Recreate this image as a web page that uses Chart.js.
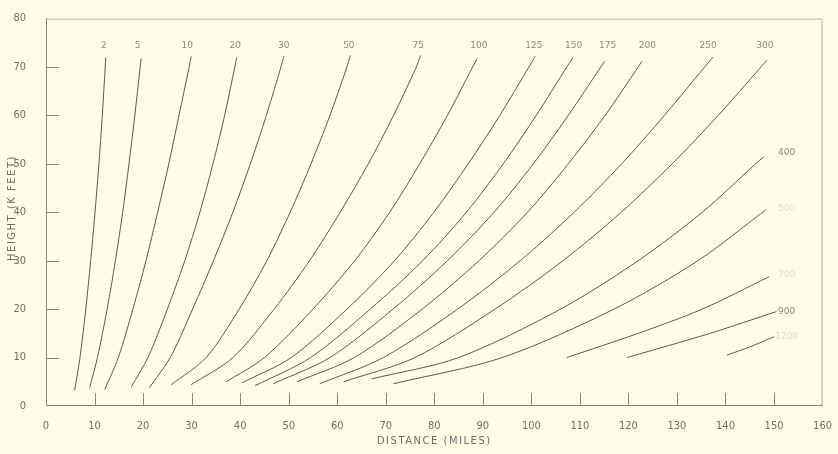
<!DOCTYPE html>
<html>
<head>
<meta charset="utf-8">
<script src="https://cdn.jsdelivr.net/npm/chart.js@4.4.0/dist/chart.umd.min.js"></script>
<style>
html, body { margin: 0; padding: 0; background: #fdfde8; }
#wrap { width: 838px; height: 454px; position: relative; }
</style>
</head>
<body>
<div id="wrap"><canvas id="grafico"></canvas></div>
<script>
// curves: [distance (miles), height (K feet)]
const c2 = [[5.9, 3.2], [7.0, 10], [8.2, 20], [9.2, 30], [10.1, 40], [10.9, 50], [11.6, 60], [12.2, 70], [12.3, 72]]
const c5 = [[9.0, 3.8], [10.6, 10], [12.6, 20], [14.3, 30], [15.8, 40], [17.1, 50], [18.3, 60], [19.4, 70], [19.6, 71.8]]
const c10 = [[12.1, 3.4], [14.9, 10], [17.9, 20], [20.6, 30], [23.0, 40], [25.3, 50], [27.4, 60], [29.5, 70], [29.9, 72.2]]
const c20 = [[17.6, 4.0], [21.0, 10], [25.0, 20], [28.6, 30], [31.7, 40], [34.4, 50], [36.8, 60], [38.9, 70], [39.3, 72]]
const c30 = [[21.3, 3.8], [25.6, 10], [30.2, 20], [34.5, 30], [38.5, 40], [42.1, 50], [45.4, 60], [48.4, 70], [49.0, 72.2]]
const c50 = [[25.8, 4.4], [33.0, 10], [39.8, 20], [45.5, 30], [50.3, 40], [54.6, 50], [58.5, 60], [62.0, 70], [62.7, 72.4]]
const c75 = [[29.9, 4.4], [38.5, 10], [47.0, 20], [54.3, 30], [60.6, 40], [66.4, 50], [71.6, 60], [76.3, 70], [77.2, 72.4]]
const c100 = [[37.1, 5.0], [45.0, 10], [55.0, 20], [63.6, 30], [70.8, 40], [77.0, 50], [82.7, 60], [87.9, 70], [88.8, 71.7]]
const c125 = [[40.4, 4.8], [50.5, 10], [62.0, 20], [71.8, 30], [79.9, 40], [87.0, 50], [93.5, 60], [99.5, 70], [100.8, 72.2]]
const c150 = [[43.1, 4.2], [54.5, 10], [66.8, 20], [77.6, 30], [86.6, 40], [94.2, 50], [101.0, 60], [107.3, 70], [108.6, 72]]
const c175 = [[46.8, 4.6], [58.5, 10], [71.5, 20], [82.7, 30], [92.3, 40], [100.4, 50], [107.6, 60], [114.3, 70], [115.1, 71.2]]
const c200 = [[51.7, 5.0], [63.5, 10], [77.5, 20], [89.2, 30], [99.2, 40], [107.6, 50], [115.2, 60], [122.0, 70], [122.8, 71.2]]
const c250 = [[56.4, 4.6], [69.5, 10], [84.8, 20], [97.7, 30], [108.8, 40], [118.6, 50], [127.4, 60], [135.7, 70], [137.4, 72]]
const c300 = [[61.3, 5.0], [76.0, 10], [92.5, 20], [106.5, 30], [118.5, 40], [129.0, 50], [138.5, 60], [147.3, 70], [148.5, 71.4]]
const c400 = [[67.1, 5.6], [85.0, 10], [106.0, 20], [122.0, 30], [135.2, 40], [146.2, 50], [147.9, 51.5]]
const c500 = [[71.6, 4.6], [94.0, 10], [117.0, 20], [134.3, 30], [148.3, 40.5]]
const c700 = [[107.3, 10], [122.0, 15], [135.2, 20], [149.0, 26.7]]
const c900 = [[119.7, 10], [136.8, 15], [150.5, 19.5]]
const c1200 = [[140.3, 10.5], [145.0, 12.2], [150.0, 14.3]]

const curvas = [c2, c5, c10, c20, c30, c50, c75, c100, c125, c150, c175, c200, c250, c300, c400, c500, c700, c900, c1200]

const topLabels = ['2', '5', '10', '20', '30', '50', '75', '100', '125', '150', '175', '200', '250', '300']
const topLabelMiles = [11.9, 18.9, 29.1, 39.0, 49.0, 62.4, 76.7, 89.2, 100.5, 108.7, 115.7, 123.9, 136.4, 148.1]
const topLabelHeight = 74.4
const sideLabels = ['400', '500', '700', '900', '1200']
const sideLabelHeights = [52.3, 40.8, 27.1, 19.5, 14.3]
const sideLabelMiles = 152.6
const fadedLabels = ['500', '700', '1200']

const xTitle = 'DISTANCE (MILES)'
const yTitle = 'HEIGHT (K FEET)'

const tickFont = "'Liberation Sans Narrow', 'DejaVu Sans Condensed', sans-serif"

const desenhoExtra = {
    id: 'desenhoExtra',
    afterDraw(chart) {
        const ctx = chart.ctx
        const area = chart.chartArea
        const x = chart.scales.x
        const y = chart.scales.y
        ctx.save()

        // frame
        ctx.lineWidth = 1
        ctx.strokeStyle = '#b4b4a4'
        ctx.beginPath()
        ctx.moveTo(area.left, area.top + 0.5)
        ctx.lineTo(area.right - 0.5, area.top + 0.5)
        ctx.lineTo(area.right - 0.5, area.bottom)
        ctx.stroke()
        ctx.strokeStyle = '#86867a'
        ctx.beginPath()
        ctx.moveTo(area.left + 0.5, area.top)
        ctx.lineTo(area.left + 0.5, area.bottom - 0.5)
        ctx.lineTo(area.right, area.bottom - 0.5)
        ctx.stroke()

        // inward ticks
        ctx.beginPath()
        for (let v = 10; v <= 70; v += 10) {
            const py = Math.round(y.getPixelForValue(v)) + 0.5
            ctx.moveTo(area.left, py)
            ctx.lineTo(area.left + 13, py)
        }
        for (let v = 10; v <= 150; v += 10) {
            const px = Math.round(x.getPixelForValue(v)) + 0.5
            ctx.moveTo(px, area.bottom)
            ctx.lineTo(px, area.bottom - 13)
        }
        ctx.stroke()

        // curve labels
        ctx.font = "9px 'DejaVu Sans', sans-serif"
        ctx.textAlign = 'center'
        ctx.textBaseline = 'middle'
        ctx.fillStyle = '#8a8a80'
        topLabels.forEach((t, i) => {
            ctx.fillText(t, x.getPixelForValue(topLabelMiles[i]), y.getPixelForValue(topLabelHeight))
        })
        sideLabels.forEach((t, i) => {
            ctx.fillStyle = fadedLabels.includes(t) ? '#deded0' : '#8a8a80'
            ctx.fillText(t, x.getPixelForValue(sideLabelMiles), y.getPixelForValue(sideLabelHeights[i]))
        })

        // axis titles
        ctx.fillStyle = '#6e6e66'
        ctx.font = "10px 'DejaVu Sans', sans-serif"
        ctx.letterSpacing = '1.5px'
        ctx.fillText(xTitle, (area.left + area.right) / 2, 441)
        ctx.translate(12, 208)
        ctx.rotate(-Math.PI / 2)
        ctx.fillText(yTitle, 0, 0)
        ctx.restore()
    }
}

new Chart(document.getElementById('grafico'), {
    type: 'scatter',
    data: {
        datasets: curvas.map(c => ({
            data: c.map(p => ({ x: p[0], y: p[1] })),
            showLine: true,
            borderColor: '#5a5a52',
            borderWidth: 1,
            pointRadius: 0,
            tension: 0.3
        }))
    },
    options: {
        responsive: true,
        maintainAspectRatio: false,
        animation: false,
        layout: { padding: { top: 9, right: 12, left: 0, bottom: 0 } },
        plugins: {
            legend: { display: false },
            tooltip: { enabled: false }
        },
        scales: {
            x: {
                type: 'linear',
                min: 0,
                max: 160,
                grid: { display: false },
                border: { display: false },
                ticks: {
                    stepSize: 10,
                    padding: 6,
                    color: '#6e6e66',
                    font: { family: tickFont, size: 11 }
                },
                afterFit(scale) { scale.height = 48 }
            },
            y: {
                min: 0,
                max: 80,
                grid: { display: false },
                border: { display: false },
                ticks: {
                    stepSize: 10,
                    padding: 12,
                    color: '#6e6e66',
                    font: { family: tickFont, size: 11 }
                },
                afterFit(scale) { scale.width = 46 }
            }
        }
    },
    plugins: [desenhoExtra]
})
</script>
</body>
</html>
